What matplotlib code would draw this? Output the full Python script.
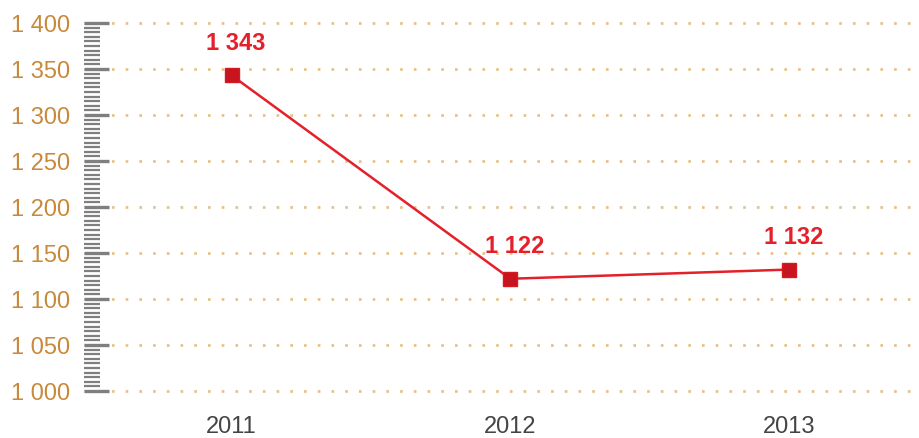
import matplotlib.pyplot as plt
from matplotlib.ticker import MultipleLocator, FuncFormatter

plt.rcParams['font.family'] = ['Liberation Sans', 'DejaVu Sans']

years = ["2011", "2012", "2013"]
values = [1343, 1122, 1132]

fig = plt.figure(figsize=(9.2, 4.38), dpi=100)
ax = fig.add_axes([84 / 920, 47 / 438, (920 - 84) / 920, (391 - 23) / 438])

x = list(range(len(years)))
ax.plot(x, values, color='#e4202a', lw=1.8, zorder=3)
ax.plot(x, values, ls='none', marker='s', ms=10, mfc='#c8141e', mec='#d51a22', zorder=4)
for xi, v in zip(x, values):
    ax.annotate(f"{v:,}".replace(",", " "), (xi, v), xytext=(3, 15), textcoords='offset points',
                ha='center', va='bottom', color='#e4202a', fontsize=17, fontweight='bold')

ax.set_xlim(-0.53, 2.47)
ax.set_ylim(1000, 1400)
ax.set_xticks(x)
ax.set_xticklabels(years)
ax.yaxis.set_major_locator(MultipleLocator(50))
ax.yaxis.set_minor_locator(MultipleLocator(5))
ax.yaxis.set_major_formatter(FuncFormatter(lambda v, p: f"{int(v):,}".replace(",", " ")))

for s in ax.spines.values():
    s.set_visible(False)

ax.tick_params(axis='y', which='major', direction='in', length=18, width=2.4, color='#7f7f7f',
               pad=10, labelsize=17, labelcolor='#c8893a')
ax.tick_params(axis='y', which='minor', direction='in', length=11.5, width=1.6, color='#7f7f7f')
ax.tick_params(axis='x', length=0, pad=18, labelsize=17, labelcolor='#444444')

ax.grid(axis='y', which='major', color='#e2c089', ls=(0, (1, 4.2)), lw=1.9, zorder=0)
for gl in ax.get_ygridlines():
    gl.set_clip_on(False)
ax.set_axisbelow(True)

fig.savefig('out.png', dpi=100)
